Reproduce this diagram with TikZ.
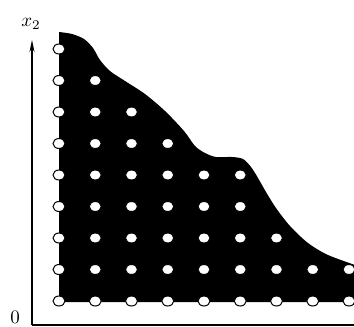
\documentclass[tikz,border=0pt]{standalone}
\usetikzlibrary{shapes.geometric,arrows.meta}
\begin{document}
\begin{tikzpicture}[x=1pt,y=-1pt,
  dot/.style={ellipse,minimum width=12pt,minimum height=10pt,inner sep=0pt,fill=white,draw=black,line width=1pt},
  axis/.style={line width=1.4pt},
  lbl/.style={inner sep=0pt,scale=1.9}]
\useasboundingbox (0,0) rectangle (354,327);
% feasible region
\fill[black] plot[smooth,tension=0.5] coordinates {(59,32) (72,34) (84,39) (93,48) (100,60) (110,71) (125,81) (145,94) (165,111) (184,131) (195,146) (205,153) (216,157) (232,157) (243,159) (251,167) (258,178) (266,192) (276,208) (290,226) (308,243) (328,255) (358,266)}
  -- (358,302) -- (59,302) -- cycle;
% axes
\coordinate (o) at (32,325);
\coordinate (ytip) at (32,40);
\coordinate (xend) at (356,325);
\draw[axis,-{Stealth[length=12pt,width=5pt]}] (o) -- (ytip);
\draw[axis] (o) -- (xend);
\node[lbl] (zero) at (15,317) {0};
\node[lbl] (xlab) at (31,24) {$x_2$};
% lattice points
\foreach \r/\n in {1/1,2/2,3/3,4/4,5/6,6/6,7/7,8/9,9/9}{
  \foreach \c in {1,...,\n}{
    \node[dot] (d\r-\c) at ({59+36.25*(\c-1)},{49+31.5*(\r-1)}) {};
  }
}
\end{tikzpicture}
\end{document}
